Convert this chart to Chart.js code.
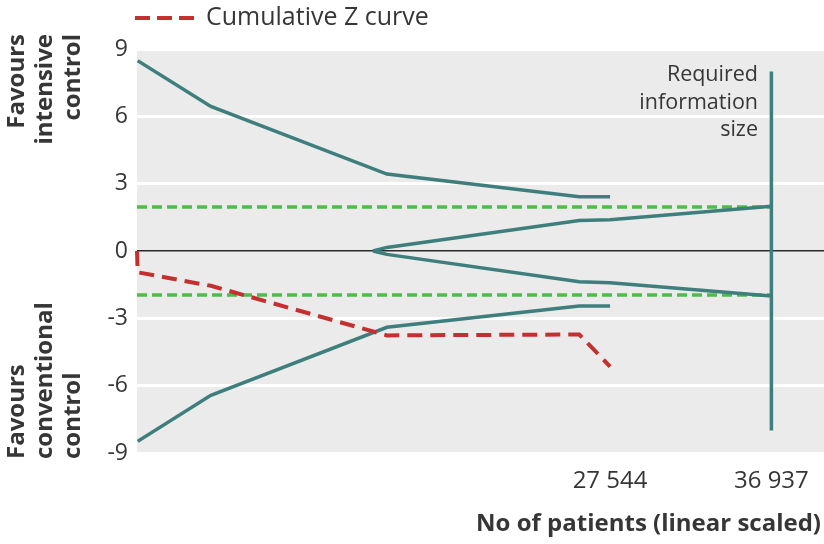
<!DOCTYPE html>
<html><head><meta charset="utf-8">
<script src="https://cdn.jsdelivr.net/npm/chart.js@4/dist/chart.umd.min.js"></script>
<style>html,body{margin:0;padding:0;background:#fff}#wrap{width:824px;height:544px;position:relative}</style>
</head><body><div id="wrap"><canvas id="c" width="824" height="544"></canvas></div>
<script>
// ---- data ----
const zCurveN = [0, 40, 4300, 14550, 25750, 27544];
const zCurveZ = [0, -0.95, -1.55, -3.76, -3.72, -5.15];
const boundN = [40, 4300, 14550, 25750, 27544];
const upperBound = [8.48, 6.44, 3.43, 2.42, 2.42];
const lowerBound = [-8.48, -6.43, -3.40, -2.45, -2.45];
const futilityN = [13741, 14550, 25750, 27544, 36937];
const upperFutility = [0, 0.16, 1.36, 1.39, 1.99];
const lowerFutility = [0, -0.15, -1.37, -1.42, -2.0];
const conventionalN = [0, 36937];
const conventionalUpper = [1.96, 1.96];
const conventionalLower = [-1.96, -1.96];
const risN = [36937, 36937];
const risZ = [-8, 8];
const xTicks = [27544, 36937];
const yTicks = [9, 6, 3, 0, -3, -6, -9];
const legendLabel = 'Cumulative Z curve';
const upperSideLabel = ['Favours', 'intensive', 'control'];
const lowerSideLabel = ['Favours', 'conventional', 'control'];
const risLabel = ['Required', 'information', 'size'];
const xTitle = 'No of patients (linear scaled)';

const TEAL = '#3e7e7d', RED = '#c3302f', GREEN = '#4fbd48', TEXT = '#363636', FONT = '"Open Sans", sans-serif';
const pts = (xs, ys) => xs.map((x, i) => ({x, y: ys[i]}));
const fmt = v => String(v).replace(/\B(?=(\d{3})+(?!\d))/g, ' ');

const base = {pointRadius: 0, tension: 0, fill: false, borderCapStyle: 'butt'};
const datasets = [
  {...base, label: legendLabel, data: pts(zCurveN, zCurveZ), borderColor: RED, borderWidth: 4, borderDash: [15, 8], clip: 4},
  {...base, label: 'upper', data: pts(boundN, upperBound), borderColor: TEAL, borderWidth: 3.5},
  {...base, label: 'lower', data: pts(boundN, lowerBound), borderColor: TEAL, borderWidth: 3.5},
  {...base, label: 'fut up', data: pts(futilityN, upperFutility), borderColor: TEAL, borderWidth: 3.5},
  {...base, label: 'fut lo', data: pts(futilityN, lowerFutility), borderColor: TEAL, borderWidth: 3.5},
  {...base, label: 'ris', data: pts(risN, risZ), borderColor: TEAL, borderWidth: 3.5},
  {...base, label: 'conv up', data: pts(conventionalN, conventionalUpper), borderColor: GREEN, borderWidth: 3.5, borderDash: [10, 5]},
  {...base, label: 'conv lo', data: pts(conventionalN, conventionalLower), borderColor: GREEN, borderWidth: 3.5, borderDash: [10, 5]}
];

const decor = {
  id: 'decor',
  beforeDraw(chart) {
    const {ctx, chartArea: a} = chart;
    ctx.save();
    ctx.fillStyle = '#ebebeb';
    ctx.fillRect(a.left, a.top, a.right - a.left, a.bottom - a.top);
    ctx.restore();
  },
  afterDraw(chart) {
    const {ctx} = chart;
    ctx.save();
    // legend
    ctx.strokeStyle = RED; ctx.lineWidth = 4; ctx.setLineDash([15, 7]);
    ctx.beginPath(); ctx.moveTo(135, 18); ctx.lineTo(195, 18); ctx.stroke();
    ctx.setLineDash([]);
    ctx.fillStyle = TEXT; ctx.font = '25px ' + FONT; ctx.textAlign = 'left'; ctx.textBaseline = 'middle';
    ctx.fillText(legendLabel, 206, 18);
    // RIS label
    ctx.font = '21.5px ' + FONT; ctx.textAlign = 'right';
    risLabel.forEach((t, i) => ctx.fillText(t, 758, 75 + i * 27.5));
    // x title
    ctx.font = 'bold 24px ' + FONT; ctx.textAlign = 'right';
    ctx.fillText(xTitle, 821, 524);
    // side labels
    ctx.font = 'bold 24px ' + FONT;
    const cx = [17, 45, 73];
    upperSideLabel.forEach((t, i) => {
      ctx.save(); ctx.translate(cx[i], 34); ctx.rotate(-Math.PI / 2);
      ctx.textAlign = 'right'; ctx.textBaseline = 'middle'; ctx.fillText(t, 0, 0); ctx.restore();
    });
    lowerSideLabel.forEach((t, i) => {
      ctx.save(); ctx.translate(cx[i], 459); ctx.rotate(-Math.PI / 2);
      ctx.textAlign = 'left'; ctx.textBaseline = 'middle'; ctx.fillText(t, 0, 0); ctx.restore();
    });
    ctx.restore();
  }
};

new Chart(document.getElementById('c'), {
  type: 'line',
  data: {datasets},
  plugins: [decor],
  options: {
    responsive: false, animation: false, devicePixelRatio: 1,
    layout: {padding: {top: 49, left: 0, right: 0, bottom: 0}},
    plugins: {legend: {display: false}, tooltip: {enabled: false}},
    scales: {
      x: {
        type: 'linear', min: 0, max: 40000,
        grid: {display: false}, border: {display: false},
        afterBuildTicks: s => { s.ticks = xTicks.map(v => ({value: v})); },
        afterFit: s => { s.height = 91; },
        ticks: {autoSkip: false, maxRotation: 0, padding: 6, color: TEXT, font: {family: FONT, size: 24}, callback: v => fmt(v)}
      },
      y: {
        type: 'linear', min: -9, max: 9,
        afterBuildTicks: s => { s.ticks = yTicks.map(v => ({value: v})); },
        afterFit: s => { s.width = 137; },
        border: {display: false},
        grid: {drawTicks: false,
          color: c => (c.tick && c.tick.value === 0) ? '#2b2b2b' : '#ffffff',
          lineWidth: c => (c.tick && c.tick.value === 0) ? 1.5 : 3},
        ticks: {padding: 9, color: TEXT, font: {family: FONT, size: 23}, callback: v => String(v)}
      }
    }
  }
});
</script></body></html>
